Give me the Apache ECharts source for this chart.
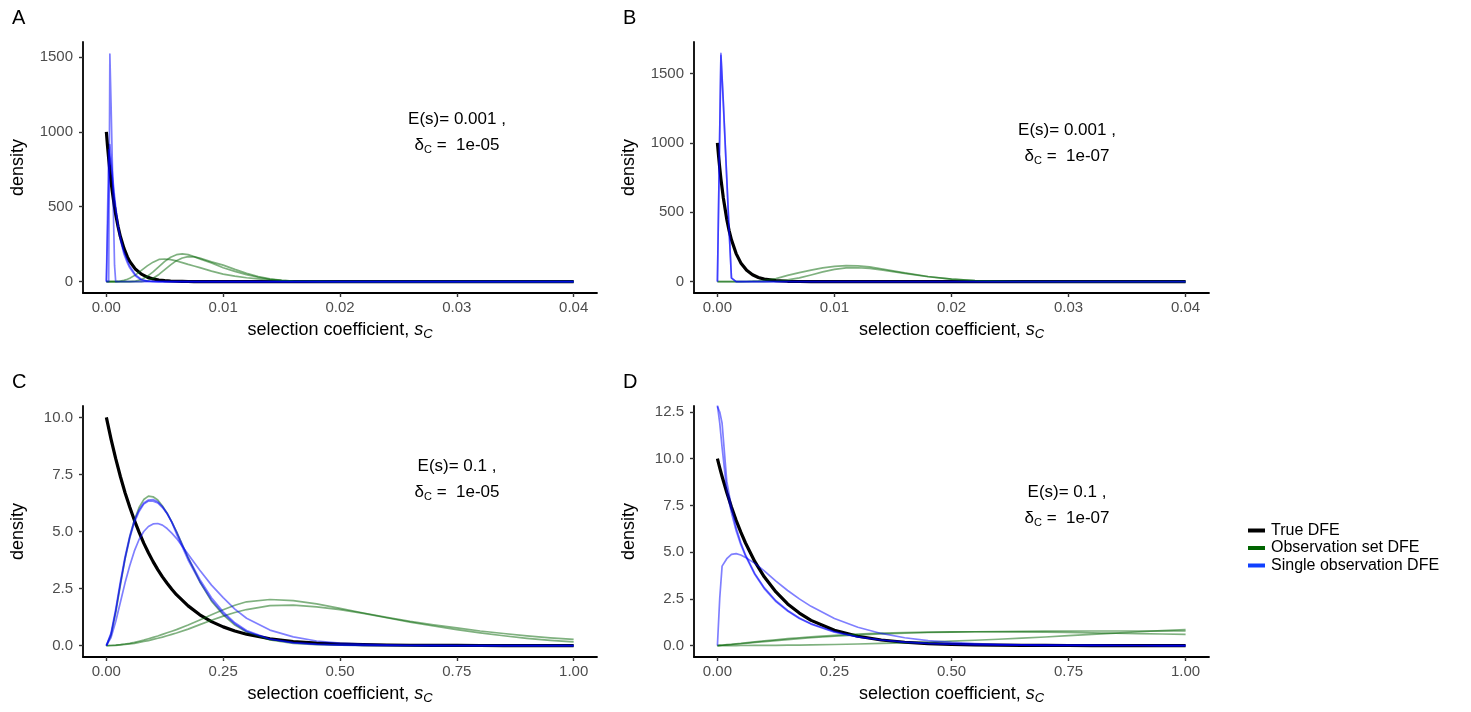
<!DOCTYPE html>
<html>
<head>
<meta charset="utf-8">
<script src="https://cdn.jsdelivr.net/npm/echarts@6/dist/echarts.min.js"></script>
<style>
  html, body { margin: 0; padding: 0; background: #fff; }
  #chart { width: 1471px; height: 712px; }
</style>
</head>
<body>
<div id="chart"></div>
<script>
  // Panel A: E(s) = 0.001, delta_C = 1e-05
  const aX = [0, 0.0001, 0.0002, 0.0003, 0.0004, 0.0005, 0.0006, 0.0007, 0.0008, 0.001, 0.0012, 0.0015, 0.0018, 0.002, 0.0025, 0.003, 0.0035, 0.004, 0.0045, 0.005, 0.0055, 0.006, 0.0065, 0.007, 0.0075, 0.008, 0.009, 0.01, 0.011, 0.012, 0.013, 0.014, 0.015, 0.016, 0.018, 0.02, 0.03, 0.04];
  const aTrue = [1000, 905, 819, 741, 670, 607, 549, 497, 449, 368, 301, 223, 165, 135, 82, 50, 30, 18, 11, 7, 4, 2.5, 1.5, 0.9, 0.55, 0.3, 0.1, 0.05, 0, 0, 0, 0, 0, 0, 0, 0, 0, 0];
  const aObs1 = [0, 0, 0, 0, 0, 0, 0, 0, 0, 1, 3, 8, 16, 23, 45, 75, 105, 130, 148, 151, 147, 138, 127, 115, 104, 93, 70, 50, 37, 26, 18, 11, 6, 3, 1, 0, 0, 0];
  const aObs2 = [0, 0, 0, 0, 0, 0, 0, 0, 0, 0, 0, 0, 0, 0, 3, 14, 35, 65, 100, 135, 163, 180, 185, 180, 168, 152, 125, 93, 68, 47, 29, 16, 8, 4, 1, 0, 0, 0];
  const aObs3 = [0, 0, 0, 0, 0, 0, 0, 0, 0, 0, 0, 0, 0, 0, 0, 0, 6, 22, 48, 80, 112, 140, 158, 167, 165, 157, 132, 110, 82, 56, 33, 18, 9, 4, 1, 0, 0, 0];
  const aSingle1 = [0, 0, 0, 1520, 1195, 830, 470, 110, 0, 0, 0, 0, 0, 0, 0, 0, 0, 0, 0, 0, 0, 0, 0, 0, 0, 0, 0, 0, 0, 0, 0, 0, 0, 0, 0, 0, 0, 0];
  const aSingle2 = [0, 310, 620, 915, 830, 740, 650, 570, 500, 380, 300, 200, 140, 105, 45, 14, 4, 1, 0, 0, 0, 0, 0, 0, 0, 0, 0, 0, 0, 0, 0, 0, 0, 0, 0, 0, 0, 0];
  const aSingle3 = [0, 450, 880, 870, 780, 700, 620, 545, 480, 360, 280, 185, 125, 92, 38, 11, 3, 1, 0, 0, 0, 0, 0, 0, 0, 0, 0, 0, 0, 0, 0, 0, 0, 0, 0, 0, 0, 0];

  // Panel B: E(s) = 0.001, delta_C = 1e-07
  const bX = [0, 0.0001, 0.0002, 0.0003, 0.0005, 0.0008, 0.001, 0.0012, 0.0016, 0.002, 0.0025, 0.003, 0.0035, 0.004, 0.005, 0.006, 0.007, 0.008, 0.009, 0.01, 0.011, 0.012, 0.013, 0.014, 0.015, 0.016, 0.018, 0.02, 0.022, 0.024, 0.026, 0.03, 0.04];
  const bTrue = [1000, 905, 819, 741, 607, 449, 368, 301, 202, 135, 82, 50, 30, 18, 7, 2.5, 0.9, 0.3, 0.1, 0, 0, 0, 0, 0, 0, 0, 0, 0, 0, 0, 0, 0, 0];
  const bObs1 = [0, 0, 0, 0, 0, 0, 0, 0, 0, 0, 1, 3, 6, 10, 22, 45, 65, 83, 99, 110, 116, 114, 106, 93, 78, 63, 37, 18, 8, 3, 1, 0, 0];
  const bObs2 = [0, 0, 0, 0, 0, 0, 0, 0, 0, 0, 0, 0, 0, 0, 4, 12, 27, 48, 70, 88, 99, 100, 95, 85, 72, 59, 35, 18, 8, 3, 1, 0, 0];
  const bSingle1 = [0, 550, 1100, 1645, 1308, 748, 374, 27, 0, 0, 0, 0, 0, 0, 0, 0, 0, 0, 0, 0, 0, 0, 0, 0, 0, 0, 0, 0, 0, 0, 0, 0, 0];
  const bSingle2 = [0, 540, 1090, 1630, 1290, 740, 365, 25, 0, 0, 0, 0, 0, 0, 0, 0, 0, 0, 0, 0, 0, 0, 0, 0, 0, 0, 0, 0, 0, 0, 0, 0, 0];

  // Panel C: E(s) = 0.1, delta_C = 1e-05
  const cX = [0, 0.01, 0.02, 0.03, 0.04, 0.05, 0.06, 0.07, 0.08, 0.09, 0.1, 0.11, 0.12, 0.13, 0.14, 0.15, 0.175, 0.2, 0.225, 0.25, 0.275, 0.3, 0.35, 0.4, 0.45, 0.5, 0.55, 0.6, 0.65, 0.7, 0.75, 0.8, 0.85, 0.9, 0.95, 1];
  const cTrue = [10, 9.05, 8.19, 7.41, 6.70, 6.07, 5.49, 4.97, 4.49, 4.07, 3.68, 3.33, 3.01, 2.73, 2.47, 2.23, 1.74, 1.35, 1.05, 0.82, 0.64, 0.50, 0.30, 0.18, 0.11, 0.07, 0.04, 0.025, 0.015, 0.009, 0.006, 0.003, 0.002, 0.001, 0.001, 0];
  const cObs1 = [0, 0.45, 1.45, 2.65, 3.8, 4.75, 5.5, 6.05, 6.4, 6.55, 6.52, 6.38, 6.12, 5.8, 5.42, 5.0, 3.85, 2.8, 1.95, 1.35, 0.9, 0.6, 0.25, 0.1, 0.04, 0.02, 0.01, 0.005, 0, 0, 0, 0, 0, 0, 0, 0];
  const cObs2 = [0, 0.005, 0.02, 0.04, 0.07, 0.1, 0.14, 0.19, 0.24, 0.3, 0.36, 0.42, 0.49, 0.56, 0.63, 0.7, 0.9, 1.12, 1.35, 1.57, 1.77, 1.92, 2.02, 1.97, 1.83, 1.63, 1.43, 1.24, 1.06, 0.91, 0.78, 0.64, 0.53, 0.43, 0.34, 0.27];
  const cObs3 = [0, 0.003, 0.012, 0.03, 0.05, 0.075, 0.1, 0.14, 0.18, 0.22, 0.27, 0.32, 0.37, 0.43, 0.49, 0.55, 0.72, 0.92, 1.11, 1.29, 1.45, 1.58, 1.75, 1.77, 1.7, 1.58, 1.41, 1.22, 1.03, 0.86, 0.7, 0.56, 0.43, 0.32, 0.23, 0.16];
  const cSingle1 = [0, 0.55, 1.6, 2.8, 3.9, 4.8, 5.5, 5.95, 6.25, 6.38, 6.4, 6.3, 6.1, 5.8, 5.4, 4.9, 3.75, 2.8, 2.0, 1.4, 0.95, 0.62, 0.28, 0.12, 0.05, 0.02, 0.01, 0.005, 0.002, 0.001, 0, 0, 0, 0, 0, 0];
  const cSingle2 = [0, 0.5, 1.5, 2.7, 3.8, 4.7, 5.4, 5.88, 6.2, 6.33, 6.33, 6.25, 6.05, 5.78, 5.42, 5.0, 3.85, 2.9, 2.1, 1.48, 1.0, 0.66, 0.29, 0.13, 0.06, 0.03, 0.015, 0.008, 0.004, 0.002, 0.001, 0, 0, 0, 0, 0];
  const cSingle3 = [0, 0.35, 1.05, 1.9, 2.75, 3.5, 4.15, 4.65, 5.0, 5.22, 5.33, 5.35, 5.28, 5.13, 4.93, 4.7, 4.0, 3.3, 2.65, 2.1, 1.6, 1.2, 0.68, 0.38, 0.2, 0.11, 0.06, 0.03, 0.015, 0.008, 0.004, 0.002, 0.001, 0, 0, 0];

  // Panel D: E(s) = 0.1, delta_C = 1e-07
  const dX = [0, 0.005, 0.01, 0.02, 0.03, 0.04, 0.05, 0.06, 0.08, 0.1, 0.125, 0.15, 0.175, 0.2, 0.25, 0.3, 0.35, 0.4, 0.45, 0.5, 0.55, 0.6, 0.65, 0.7, 0.75, 0.8, 0.85, 0.9, 0.95, 1];
  const dTrue = [10, 9.51, 9.05, 8.19, 7.41, 6.70, 6.07, 5.49, 4.49, 3.68, 2.87, 2.23, 1.74, 1.35, 0.82, 0.50, 0.30, 0.18, 0.11, 0.07, 0.04, 0.025, 0.015, 0.009, 0.006, 0.003, 0.002, 0.001, 0.001, 0];
  const dObs1 = [0, 0.01, 0.02, 0.05, 0.07, 0.1, 0.12, 0.15, 0.2, 0.25, 0.31, 0.37, 0.42, 0.47, 0.55, 0.62, 0.67, 0.7, 0.72, 0.73, 0.74, 0.74, 0.73, 0.72, 0.7, 0.68, 0.66, 0.64, 0.62, 0.6];
  const dObs2 = [0, 0.01, 0.02, 0.04, 0.06, 0.08, 0.1, 0.12, 0.17, 0.21, 0.27, 0.32, 0.37, 0.42, 0.5, 0.57, 0.62, 0.66, 0.7, 0.72, 0.74, 0.75, 0.76, 0.77, 0.77, 0.78, 0.78, 0.78, 0.78, 0.78];
  const dObs3 = [0, 0, 0, 0.001, 0.002, 0.003, 0.004, 0.005, 0.008, 0.011, 0.016, 0.022, 0.03, 0.04, 0.06, 0.085, 0.115, 0.15, 0.19, 0.235, 0.285, 0.34, 0.4, 0.46, 0.53, 0.6, 0.67, 0.74, 0.8, 0.86];
  const dSingle1 = [12.85, 11.9, 10.6, 8.3, 7.1, 6.15, 5.4, 4.8, 3.8, 3.05, 2.35, 1.85, 1.45, 1.15, 0.72, 0.46, 0.3, 0.19, 0.12, 0.08, 0.05, 0.035, 0.025, 0.017, 0.012, 0.008, 0.006, 0.004, 0.003, 0.002];
  const dSingle2 = [12.8, 12.5, 11.9, 8.8, 7.4, 6.3, 5.5, 4.85, 3.85, 3.1, 2.4, 1.88, 1.48, 1.17, 0.74, 0.47, 0.3, 0.19, 0.12, 0.08, 0.05, 0.035, 0.025, 0.017, 0.012, 0.008, 0.006, 0.004, 0.003, 0.002];
  const dSingle3 = [0, 2.55, 4.25, 4.65, 4.88, 4.92, 4.85, 4.72, 4.4, 4.0, 3.45, 2.95, 2.5, 2.1, 1.45, 0.98, 0.65, 0.42, 0.27, 0.17, 0.11, 0.07, 0.045, 0.03, 0.02, 0.013, 0.008, 0.005, 0.003, 0.002];

  // tick labels
  const xTicksSmall = [0, 0.01, 0.02, 0.03, 0.04];
  const xTicksLarge = [0, 0.25, 0.5, 0.75, 1];
  const yTicksAB = [0, 500, 1000, 1500];
  const yTicksC = [0, 2.5, 5, 7.5, 10];
  const yTicksD = [0, 2.5, 5, 7.5, 10, 12.5];

  const seriesNames = ['True DFE', 'Observation set DFE', 'Single observation DFE'];

  const font = '"Liberation Sans", Arial, sans-serif';
  const black = '#000000';
  const green = '#006400';
  const blue = '#0000ff';

  const panels = [
    { label: 'A', es: '0.001', dc: '1e-05', x: aX, truth: aTrue, obs: [aObs1, aObs2, aObs3], single: [aSingle1, aSingle2, aSingle3],
      grid: { left: 83, top: 42, width: 514, height: 251 }, xr: [-0.002, 0.042], yr: [-76, 1600], xt: xTicksSmall, yt: yTicksAB, yd: 0, note: [457, 106] },
    { label: 'B', es: '0.001', dc: '1e-07', x: bX, truth: bTrue, obs: [bObs1, bObs2], single: [bSingle1, bSingle2],
      grid: { left: 694, top: 42, width: 515, height: 251 }, xr: [-0.002, 0.042], yr: [-82, 1727], xt: xTicksSmall, yt: yTicksAB, yd: 0, note: [1067, 117] },
    { label: 'C', es: '0.1', dc: '1e-05', x: cX, truth: cTrue, obs: [cObs1, cObs2, cObs3], single: [cSingle1, cSingle2, cSingle3],
      grid: { left: 83, top: 406, width: 514, height: 251 }, xr: [-0.05, 1.05], yr: [-0.5, 10.5], xt: xTicksLarge, yt: yTicksC, yd: 1, note: [457, 453] },
    { label: 'D', es: '0.1', dc: '1e-07', x: dX, truth: dTrue, obs: [dObs1, dObs2, dObs3], single: [dSingle1, dSingle2, dSingle3],
      grid: { left: 694, top: 406, width: 515, height: 251 }, xr: [-0.05, 1.05], yr: [-0.61, 12.82], xt: xTicksLarge, yt: yTicksD, yd: 1, note: [1067, 479] }
  ];

  function curve(i, name, xs, ys, color, width, opacity) {
    return {
      type: 'line', name: name, xAxisIndex: i, yAxisIndex: i,
      data: xs.map((x, k) => [x, ys[k]]),
      symbol: 'none', showSymbol: false, silent: true,
      lineStyle: { color: color, width: width, opacity: opacity, cap: 'butt', join: 'round' },
      itemStyle: { color: color }
    };
  }

  const grids = [], xAxes = [], yAxes = [], series = [], graphics = [];
  panels.forEach((p, i) => {
    grids.push(p.grid);
    xAxes.push({
      gridIndex: i, type: 'value', min: p.xr[0], max: p.xr[1],
      axisLine: { show: true, onZero: false, lineStyle: { color: '#000', width: 1.8 } },
      axisTick: { show: true, length: 4, customValues: p.xt, lineStyle: { color: '#333', width: 1.4 } },
      axisLabel: { customValues: p.xt, formatter: (v) => Number(v).toFixed(2), color: '#4d4d4d', fontSize: 15, fontFamily: font, margin: 7 },
      splitLine: { show: false },
      name: '{n|selection coefficient, }{i|s}{c|C}', nameLocation: 'middle', nameGap: 26,
      nameTextStyle: {
        color: '#000', fontSize: 18, fontFamily: font,
        rich: {
          n: { fontSize: 18, fontFamily: font, color: '#000', lineHeight: 22 },
          i: { fontSize: 18, fontFamily: font, color: '#000', fontStyle: 'italic', lineHeight: 22 },
          c: { fontSize: 13, fontFamily: font, color: '#000', fontStyle: 'italic', lineHeight: 12, verticalAlign: 'bottom' }
        }
      }
    });
    yAxes.push({
      gridIndex: i, type: 'value', min: p.yr[0], max: p.yr[1],
      axisLine: { show: true, onZero: false, lineStyle: { color: '#000', width: 1.8 } },
      axisTick: { show: true, length: 4, customValues: p.yt, lineStyle: { color: '#333', width: 1.4 } },
      axisLabel: { customValues: p.yt, formatter: (v) => Number(v).toFixed(p.yd), color: '#4d4d4d', fontSize: 15, fontFamily: font, margin: 10 },
      splitLine: { show: false },
      name: 'density', nameLocation: 'middle', nameGap: 56,
      nameTextStyle: { color: '#000', fontSize: 18, fontFamily: font }
    });
    series.push(curve(i, seriesNames[0], p.x, p.truth, black, 3.2, 1));
    p.obs.forEach((ys) => series.push(curve(i, seriesNames[1], p.x, ys, green, 1.7, 0.5)));
    p.single.forEach((ys) => series.push(curve(i, seriesNames[2], p.x, ys, blue, 1.7, 0.5)));

    graphics.push({
      type: 'text', left: p.grid.left - 71, top: p.grid.top - 34,
      style: { text: p.label, fontSize: 20, fontFamily: font, fill: '#000' }
    });
    graphics.push({
      type: 'text', x: p.note[0], y: p.note[1],
      style: {
        text: '{n|E(s)= ' + p.es + ' ,}\n{n|δ}{s|C}{n| =  ' + p.dc + '}',
        align: 'center', verticalAlign: 'top', fill: '#000', fontFamily: font, fontSize: 17,
        rich: {
          n: { fontSize: 17, fontFamily: font, fill: '#000', lineHeight: 26 },
          s: { fontSize: 11, fontFamily: font, fill: '#000', lineHeight: 16, padding: [10, 0, 0, 0] }
        }
      }
    });
  });

  const chart = echarts.init(document.getElementById('chart'), null, { renderer: 'canvas' });
  chart.setOption({
    backgroundColor: '#ffffff',
    animation: false,
    grid: grids,
    xAxis: xAxes,
    yAxis: yAxes,
    series: series,
    graphic: graphics,
    legend: {
      orient: 'vertical', left: 1243, top: 517,
      icon: 'rect', itemWidth: 17, itemHeight: 4, itemGap: 0.5,
      selectedMode: false,
      textStyle: { fontSize: 16, fontFamily: font, color: '#000', lineHeight: 17, padding: [0, 0, 0, 1] },
      data: [
        { name: seriesNames[0], itemStyle: { color: black, opacity: 1 } },
        { name: seriesNames[1], itemStyle: { color: green, opacity: 1 } },
        { name: seriesNames[2], itemStyle: { color: '#1040ff', opacity: 1 } }
      ]
    }
  });
</script>
</body>
</html>
